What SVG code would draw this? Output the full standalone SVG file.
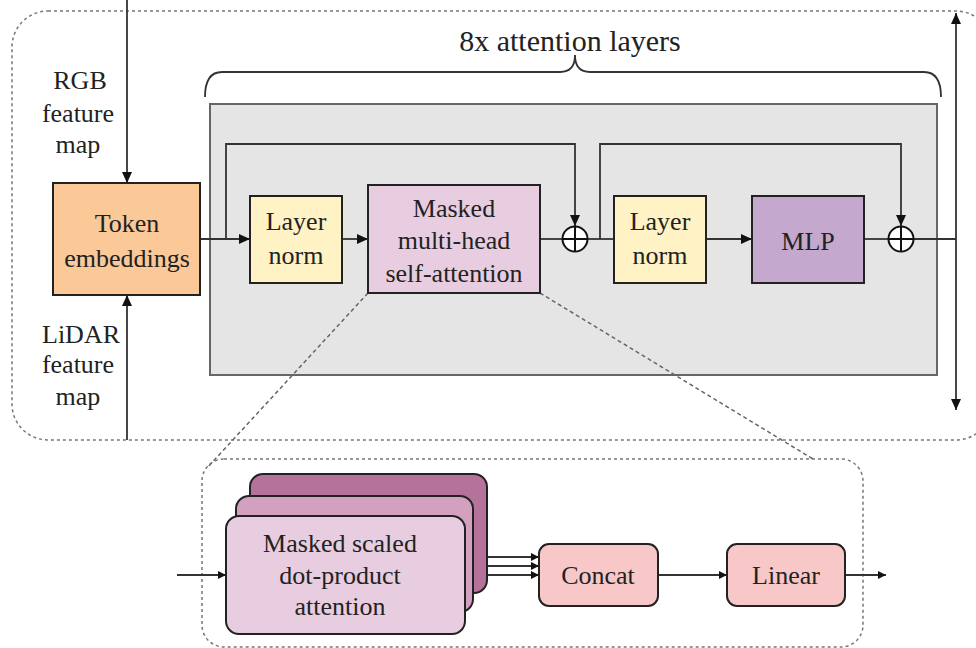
<svg xmlns="http://www.w3.org/2000/svg" width="976" height="648" viewBox="0 0 976 648">
<style>
text{font-family:"Liberation Serif","Times New Roman",Times,"DejaVu Serif",serif;font-size:26px;fill:#222;text-anchor:middle}
.box{stroke:#222;stroke-width:2}
.ln{fill:none;stroke:#333;stroke-width:1.8}
.dot{fill:none;stroke:#777;stroke-width:1.5;stroke-dasharray:3 3}
.dash{fill:none;stroke:#666;stroke-width:1.5;stroke-dasharray:4 3}
</style>
<defs>
<marker id="ah" markerUnits="userSpaceOnUse" markerWidth="12" markerHeight="10" refX="11" refY="5" orient="auto-start-reverse">
<path d="M0,0 L11,5 L0,10 z" fill="#111"/>
</marker>
<marker id="ahs" markerUnits="userSpaceOnUse" markerWidth="9" markerHeight="8" refX="8" refY="4" orient="auto">
<path d="M0,0 L8,4 L0,8 z" fill="#111"/>
</marker>
</defs>
<rect width="976" height="648" fill="#fff"/>
<g id="outer-frame">
<rect class="dot" x="12" y="11" width="980" height="429" rx="36"/>
</g>
<g id="lower-frame">
<rect class="dot" x="202" y="459" width="661" height="188" rx="22"/>
</g>
<g id="attention-block">
<rect x="210" y="104" width="727" height="271" fill="#e5e5e5" stroke="#666" stroke-width="2"/>
</g>
<g id="zoom-lines">
<path class="dash" d="M368,293 L207,468"/>
<path class="dash" d="M540,293 L813,459"/>
</g>
<g id="brace">
<path class="ln" stroke="#555" d="M205,97 Q205,72 222,72 L560,72 Q575,72 575,55 Q575,72 590,72 L924,72 Q941,72 941,97"/>
<text x="570" y="51" style="font-size:30px">8x attention layers</text>
</g>
<g id="labels">
<text x="80" y="89">RGB</text>
<text x="78" y="122">feature</text>
<text x="78" y="153">map</text>
<text x="81" y="343">LiDAR</text>
<text x="78" y="373">feature</text>
<text x="78" y="405">map</text>
</g>
<g id="connectors">
<path class="ln" d="M127,0 V183" marker-end="url(#ah)"/>
<path class="ln" d="M127,440 V295" marker-end="url(#ah)"/>
<path class="ln" d="M200,239 H250" marker-end="url(#ah)"/>
<path class="ln" d="M226,239 V144 H575 V226" marker-end="url(#ah)"/>
<path class="ln" d="M342,239 H368" marker-end="url(#ah)"/>
<path class="ln" d="M540,239 H562"/>
<path class="ln" d="M588,239 H614"/>
<path class="ln" d="M600,239 V144 H901 V226" marker-end="url(#ah)"/>
<path class="ln" d="M706,239 H752" marker-end="url(#ah)"/>
<path class="ln" d="M864,239 H888"/>
<path class="ln" d="M914,239 H956"/>
<path class="ln" d="M956,13 V410" marker-start="url(#ah)" marker-end="url(#ah)"/>
<path class="ln" d="M177,575 H226" marker-end="url(#ahs)"/>
<path class="ln" d="M487,557 H539" marker-end="url(#ahs)"/>
<path class="ln" d="M473,566 H539" marker-end="url(#ahs)"/>
<path class="ln" d="M465,575 H539" marker-end="url(#ahs)"/>
<path class="ln" d="M658,575 H727" marker-end="url(#ahs)"/>
<path class="ln" d="M845,575 H886" marker-end="url(#ahs)"/>
</g>
<g id="token-embeddings">
<rect class="box" x="53" y="183" width="147" height="112" fill="#fbc898"/>
<text x="127" y="232">Token</text>
<text x="127" y="267">embeddings</text>
</g>
<g id="layer-norm-1">
<rect class="box" x="250" y="196" width="92" height="87" fill="#fff2c4"/>
<text x="296" y="230">Layer</text>
<text x="296" y="264">norm</text>
</g>
<g id="mhsa">
<rect class="box" x="368" y="185" width="172" height="108" fill="#e8cde0"/>
<text x="454" y="217">Masked</text>
<text x="454" y="249">multi-head</text>
<text x="454" y="282">self-attention</text>
</g>
<g id="add-1">
<circle cx="575" cy="239" r="12.5" fill="#fff" stroke="#111" stroke-width="2"/>
<path d="M562.5,239 H587.5 M575,226.5 V251.5" stroke="#111" stroke-width="2"/>
</g>
<g id="layer-norm-2">
<rect class="box" x="614" y="196" width="92" height="87" fill="#fff2c4"/>
<text x="660" y="230">Layer</text>
<text x="660" y="264">norm</text>
</g>
<g id="mlp">
<rect class="box" x="752" y="196" width="112" height="87" fill="#c4a8ce"/>
<text x="808" y="250">MLP</text>
</g>
<g id="add-2">
<circle cx="901" cy="239" r="12.5" fill="#fff" stroke="#111" stroke-width="2"/>
<path d="M888.5,239 H913.5 M901,226.5 V251.5" stroke="#111" stroke-width="2"/>
</g>
<g id="attention-heads">
<rect class="box" x="250" y="474" width="237" height="119" rx="13" fill="#b5739b"/>
<rect class="box" x="236" y="496" width="237" height="116" rx="13" fill="#d3a0bf"/>
<rect class="box" x="226" y="516" width="239" height="118" rx="13" fill="#e8cde0"/>
<text x="340" y="552">Masked scaled</text>
<text x="340" y="584">dot-product</text>
<text x="340" y="615">attention</text>
</g>
<g id="concat">
<rect class="box" x="539" y="544" width="119" height="62" rx="10" fill="#f8c8c8"/>
<text x="598" y="584">Concat</text>
</g>
<g id="linear">
<rect class="box" x="727" y="544" width="118" height="62" rx="10" fill="#f8c8c8"/>
<text x="786" y="584">Linear</text>
</g>
</svg>
